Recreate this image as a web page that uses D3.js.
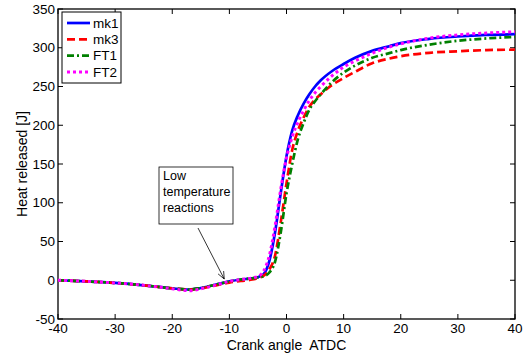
<!DOCTYPE html>
<html><head><meta charset="utf-8">
<script src="https://cdn.jsdelivr.net/npm/d3@7"></script>
<style>
body{margin:0;background:#fff;}
text{font-family:Arial,"Liberation Sans",sans-serif;fill:#000;}
</style></head>
<body>
<svg id="c" width="527" height="357"></svg>
<script>
const angles = [-40,-35,-30,-25,-20,-17,-15,-12,-10,-8,-6,-5,-4,-3,-2,-1,0,1,2,3,4,5,6,8,10,12,15,18,20,25,30,35,40];
const mk1 = [0,-1.5,-3.5,-6.5,-10.5,-12,-10,-5,-1.5,1,2.5,4,8,25,62,113,160,193,213,228,240,250,258,270,279,287,296,302,306,311.5,314.5,316.5,317.5];
const mk3 = [0,-1.5,-3.5,-6.5,-10.5,-12,-10.5,-6,-3,-1,1,3,6,14,32,75,125,168,193,210,224,233,240,252,261,269,280,286,289,293.5,295.5,297,297.5];
const FT1 = [0,-1.5,-3.5,-6.5,-10.5,-12,-10,-5,-1.5,1,2.5,3.5,5,10,24,62,112,150,182,203,220,231,240,256,268,277,287,293,297,304,309,312,314];
const FT2 = [0,-1.5,-3.5,-6.5,-11,-13.5,-11,-5.5,-1.5,1,3,5,12,32,70,118,158,185,204,219,232,242,250,264,275,283,293,301,305,312.5,316.5,319,320.5];
const seriesNames = ["mk1","mk3","FT1","FT2"];
const seriesColors = ["#0000ff","#ff0000","#008000","#ff00ff"];
const seriesDash = [null,"8,4","7,3,2,3","3,3"];
const seriesWidth = [2.7,2.7,2.7,3];
const xTicks = [-40,-30,-20,-10,0,10,20,30,40];
const yTicks = [-50,0,50,100,150,200,250,300,350];
const annotationLines = ["Low","temperature","reactions"];
const annotationTip = [-10.9, 1.6];

const svg = d3.select("#c");
const L=58, R=515, T=9, B=319;
const x = d3.scaleLinear().domain([-40,40]).range([L,R]);
const y = d3.scaleLinear().domain([-50,350]).range([B,T]);

// box
svg.append("rect").attr("x",L).attr("y",T).attr("width",R-L).attr("height",B-T)
  .attr("fill","#fff").attr("stroke","#000").attr("stroke-width",1.3);

// ticks
const tl=5;
const g = svg.append("g");
xTicks.forEach(v=>{
  g.append("line").attr("x1",x(v)).attr("x2",x(v)).attr("y1",B).attr("y2",B-tl).attr("stroke","#000");
  g.append("line").attr("x1",x(v)).attr("x2",x(v)).attr("y1",T).attr("y2",T+tl).attr("stroke","#000");
  g.append("text").attr("x",x(v)).attr("y",B+14).attr("text-anchor","middle").attr("font-size",13.5).text(v);
});
yTicks.forEach(v=>{
  g.append("line").attr("x1",L).attr("x2",L+tl).attr("y1",y(v)).attr("y2",y(v)).attr("stroke","#000");
  g.append("line").attr("x1",R).attr("x2",R-tl).attr("y1",y(v)).attr("y2",y(v)).attr("stroke","#000");
  g.append("text").attr("x",L-3).attr("y",y(v)).attr("dy","0.35em").attr("text-anchor","end").attr("font-size",13.5).text(v);
});

svg.append("text").attr("x",(L+R)/2).attr("y",350).attr("text-anchor","middle").attr("font-size",14)
  .style("white-space","pre").text("Crank angle  ATDC");
svg.append("text").attr("transform",`translate(27,${(T+B)/2}) rotate(-90)`).attr("text-anchor","middle").attr("font-size",14).text("Heat released [J]");

// lines
const data=[mk1,mk3,FT1,FT2];
const line = d3.line().x((d,i)=>x(angles[i])).y(d=>y(d)).curve(d3.curveMonotoneX);
data.forEach((s,k)=>{
  const p = svg.append("path").datum(s).attr("d",line).attr("fill","none")
    .attr("stroke",seriesColors[k]).attr("stroke-width",seriesWidth[k]);
  if(seriesDash[k]) p.attr("stroke-dasharray",seriesDash[k]);
});

// annotation
const bx=159, by=167, bw=74, bh=57;
svg.append("rect").attr("x",bx).attr("y",by).attr("width",bw).attr("height",bh).attr("fill","#fff").attr("stroke","#000").attr("stroke-width",0.8);
annotationLines.forEach((t,i)=>{
  svg.append("text").attr("x",bx+4).attr("y",by+13+i*16).attr("font-size",12.5).text(t);
});
const ax0=198, ay0=228, ax1=x(annotationTip[0]), ay1=y(annotationTip[1]);
svg.append("line").attr("x1",ax0).attr("y1",ay0).attr("x2",ax1).attr("y2",ay1).attr("stroke","#000").attr("stroke-width",0.8);
const ang=Math.atan2(ay1-ay0,ax1-ax0), hl=8, ha=0.4;
svg.append("path").attr("d",`M${ax1-hl*Math.cos(ang-ha)},${ay1-hl*Math.sin(ang-ha)}L${ax1},${ay1}L${ax1-hl*Math.cos(ang+ha)},${ay1-hl*Math.sin(ang+ha)}`)
  .attr("fill","none").attr("stroke","#000").attr("stroke-width",0.8);

// legend
const lx=62, ly=12, lw=59, lh=71;
svg.append("rect").attr("x",lx).attr("y",ly).attr("width",lw).attr("height",lh).attr("fill","#fff").attr("stroke","#000").attr("stroke-width",1);
seriesNames.forEach((n,k)=>{
  const yy = ly+11+k*16.3;
  const l = svg.append("line").attr("x1",lx+5).attr("x2",lx+28).attr("y1",yy).attr("y2",yy)
    .attr("stroke",seriesColors[k]).attr("stroke-width",seriesWidth[k]);
  if(seriesDash[k]) l.attr("stroke-dasharray",seriesDash[k]);
  svg.append("text").attr("x",lx+31).attr("y",yy).attr("dy","0.35em").attr("font-size",13.5).text(n);
});
</script>
</body></html>
